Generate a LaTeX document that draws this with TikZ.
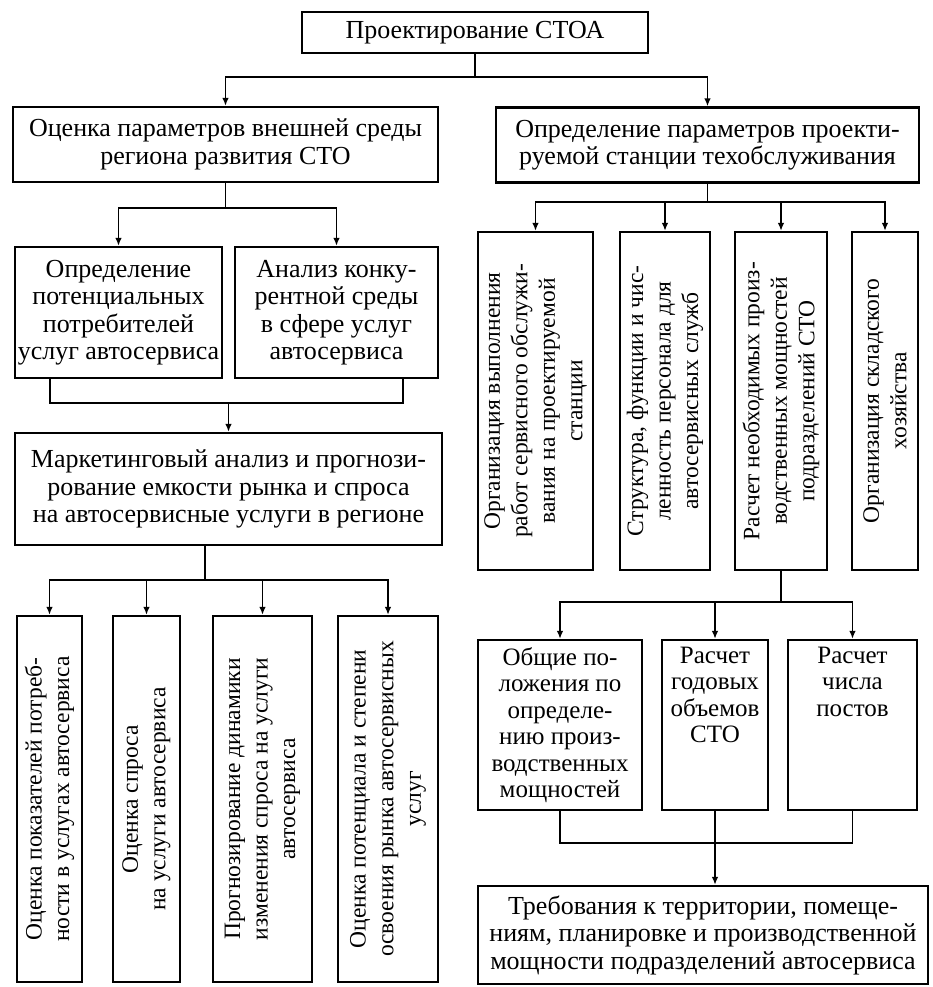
\documentclass[tikz,border=0pt]{standalone}
\usepackage{fontspec}
\setmainfont{Liberation Serif}
\usetikzlibrary{arrows.meta}
\begin{document}
\begin{tikzpicture}[x=1pt,y=-1pt,
  txt/.style={font=\fontsize{26}{27.5}\selectfont},
  box/.style={draw, line width=2.2pt, inner sep=0pt, align=center, txt},
  vtext/.style={rotate=90, align=center, inner sep=0pt, font=\fontsize{23.5}{27.5}\selectfont},
  conn/.style={line width=1.6pt},
  arr/.style={conn, -{Latex[length=8pt,width=6.5pt]}}]
\useasboundingbox (0,0) rectangle (932,987);
\fill[white] (0,0) rectangle (932,987);

% top level
\node[box, minimum width=346pt, minimum height=41pt] (top) at (475,32.5) {Проектирование СТОА};
\node[box, minimum width=425pt, minimum height=75pt] (L1) at (225.5,144.5) {Оценка параметров внешней среды\\региона развития СТО};
\node[box, minimum width=423pt, minimum height=75pt] (R1) at (707.5,145) {Определение параметров проекти-\\руемой станции техобслуживания};

% left branch
\node[box, minimum width=207pt, minimum height=131pt] (L2a) at (118.5,312.5) {Определение\\потенциальных\\потребителей\\услуг автосервиса};
\node[box, minimum width=203pt, minimum height=131pt] (L2b) at (336.5,312.5) {Анализ конку-\\рентной среды\\в сфере услуг\\автосервиса};
\node[box, minimum width=427pt, minimum height=112pt] (Mkt) at (228.5,489) {Маркетинговый анализ и прогнози-\\рование емкости рынка и спроса\\на автосервисные услуги в регионе};

\node[box, minimum width=65pt, minimum height=366pt] (V1) at (49.5,799) {};
\node[box, minimum width=67pt, minimum height=366pt] (V2) at (146.5,799) {};
\node[box, minimum width=99pt, minimum height=366pt] (V3) at (262.5,799) {};
\node[box, minimum width=100pt, minimum height=366pt] (V4) at (388,799) {};
\node[vtext] (V1t) at (V1.center) {Оценка показателей потреб-\\ности в услугах автосервиса};
\node[vtext] (V2t) at (V2.center) {Оценка спроса\\на услуги автосервиса};
\node[vtext] (V3t) at (V3.center) {Прогнозирование динамики\\изменения спроса на услуги\\автосервиса};
\node[vtext] (V4t) at (V4.center) {Оценка потенциала и степени\\освоения рынка автосервисных\\услуг};

% right branch
\node[box, minimum width=115pt, minimum height=338pt] (RA) at (535.5,401) {};
\node[box, minimum width=90pt, minimum height=338pt] (RB) at (665,401) {};
\node[box, minimum width=92pt, minimum height=338pt] (RC) at (781,401) {};
\node[box, minimum width=66pt, minimum height=338pt] (RD) at (885,401) {};
\node[vtext] (RAt) at (RA.center) {Организация выполнения\\работ сервисного обслужи-\\вания на проектируемой\\станции};
\node[vtext] (RBt) at (RB.center) {Структура, функции и чис-\\ленность персонала для\\автосервисных служб};
\node[vtext] (RCt) at (RC.center) {Расчет необходимых произ-\\водственных мощностей\\подразделений СТО};
\node[vtext] (RDt) at (RD.center) {Организация складского\\хозяйства};

\node[box, minimum width=164pt, minimum height=170pt, font=\fontsize{25}{26.5}\selectfont] (B1) at (560,725) {Общие по-\\ложения по\\определе-\\нию произ-\\водственных\\мощностей};
\node[box, minimum width=106pt, minimum height=170pt] (B2) at (715,725) {};
\node[box, minimum width=129pt, minimum height=170pt] (B3) at (852.5,725) {};
\node[align=center, inner sep=0pt, font=\fontsize{25}{26.5}\selectfont, anchor=north] (B2t) at ([yshift=-8pt]B2.north) {Расчет\\годовых\\объемов\\СТО};
\node[align=center, inner sep=0pt, font=\fontsize{25}{26.5}\selectfont, anchor=north] (B3t) at ([yshift=-8pt]B3.north) {Расчет\\числа\\постов};

\node[box, minimum width=450pt, minimum height=98pt] (bot) at (703,935) {Требования к территории, помеще-\\ниям, планировке и производственной\\мощности подразделений автосервиса};

% connectors
\coordinate (jT) at (475,77);
\draw[conn] (top.south) -- (jT);
\draw[arr] (jT) -| (L1.north);
\draw[arr] (jT) -| (R1.north);

\coordinate (jL) at (225.5,208);
\draw[conn] (L1.south) -- (jL);
\draw[arr] (jL) -| (L2a.north);
\draw[arr] (jL) -| (L2b.north);

\coordinate (jM) at (228.5,402);
\draw[conn] ([xshift=-68.5pt]L2a.south) -- ++(0,24) -| ([xshift=66.5pt]L2b.south);
\draw[arr] (jM) -- (Mkt.north);

\coordinate (jV) at (205,580);
\draw[conn] ([xshift=-23.5pt]Mkt.south) -- (jV);
\draw[arr] (jV) -| (V1.north);
\draw[arr] (jV) -| (V2.north);
\draw[arr] (jV) -| (V3.north);
\draw[arr] (jV) -| (V4.north);

\coordinate (jR) at (707.5,202);
\draw[conn] (R1.south) -- (jR);
\draw[arr] (jR) -| (RA.north);
\draw[arr] (jR) -| (RB.north);
\draw[arr] (jR) -| (RC.north);
\draw[arr] (jR) -| (RD.north);

\coordinate (jB) at (781,602);
\draw[conn] (RC.south) -- (jB);
\draw[arr] (jB) -| (B1.north);
\draw[arr] (jB) -| (B2.north);
\draw[arr] (jB) -| (B3.north);

\draw[conn] (B1.south) -- ++(0,32) -| (B3.south);
\draw[arr] (B2.south) -- (B2.south |- bot.north);
\end{tikzpicture}
\end{document}
